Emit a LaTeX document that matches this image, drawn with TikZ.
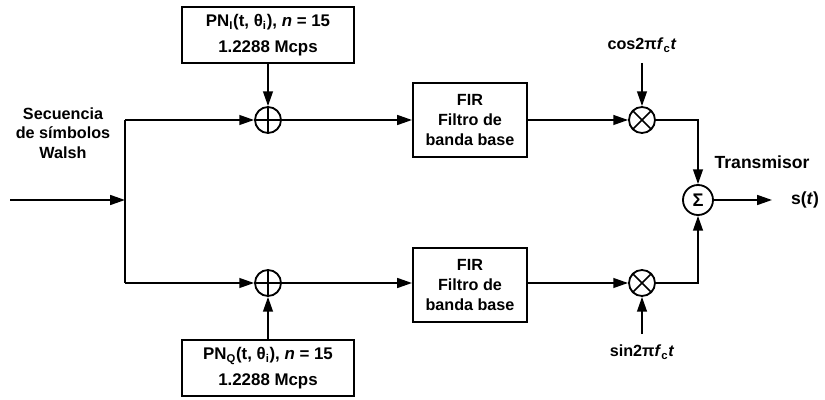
\documentclass[tikz,border=0pt]{standalone}
\usepackage{fontspec}
\setmainfont{Liberation Sans}
\usepackage{tikz}
\usetikzlibrary{arrows.meta,positioning,calc}

\begin{document}
\begin{tikzpicture}[x=0.025cm,y=-0.025cm,font=\bfseries\fontsize{11.5}{14}\selectfont,
  line width=1.2pt,
  flecha/.style={-{Triangle[length=10.5pt,width=7pt]}},
  bloque/.style={rectangle,draw,line width=1.4pt,align=center,inner sep=2pt},
  pnbloque/.style={bloque,minimum width=4.3cm,minimum height=1.4cm,
                   font=\bfseries\fontsize{12}{18}\selectfont},
  firbloque/.style={bloque,minimum width=2.85cm,minimum height=1.85cm},
  nodo/.style={circle,draw,line width=1.3pt,minimum size=0.65cm,inner sep=0pt},
  suma/.style={nodo,path picture={
      \draw[line width=1.2pt] (path picture bounding box.north) -- (path picture bounding box.south)
        (path picture bounding box.west) -- (path picture bounding box.east);}},
  mult/.style={nodo,path picture={
      \draw[line width=1.2pt] ($(path picture bounding box.center)+(45:0.33cm)$) -- ($(path picture bounding box.center)+(225:0.33cm)$)
        ($(path picture bounding box.center)+(135:0.33cm)$) -- ($(path picture bounding box.center)+(315:0.33cm)$);}},
  etiqueta/.style={align=center,inner sep=1pt}]

  \useasboundingbox (0,0) rectangle (825,400);

  % entrada y bifurcacion
  \coordinate (entrada) at (10,200);
  \coordinate (nudo)    at (125,200);
  \coordinate (bifI)    at (125,120);
  \coordinate (bifQ)    at (125,283);
  \node[etiqueta] (walsh) at (63,133) {Secuencia\\de símbolos\\Walsh};

  % rama I
  \node[suma]      (xorI) at (268,120) {};
  \node[pnbloque]  (pnI)  at (268,35)  {PN\textsubscript{I}(t, θ\textsubscript{i}), \textit{n} = 15\\1.2288 Mcps};
  \node[firbloque] (firI) at (470,120) {FIR\\Filtro de\\banda base};
  \node[mult]      (mulI) at (642,120) {};
  \node[etiqueta]  (cosI) at (642,45)  {cos2π\textit{f}\textsubscript{c}\textit{t}};

  % rama Q
  \node[suma]      (xorQ) at (268,283) {};
  \node[pnbloque]  (pnQ)  at (268,368) {PN\textsubscript{Q}(t, θ\textsubscript{i}), \textit{n} = 15\\1.2288 Mcps};
  \node[firbloque] (firQ) at (470,285) {FIR\\Filtro de\\banda base};
  \node[mult]      (mulQ) at (642,283) {};
  \node[etiqueta]  (sinQ) at (642,352) {sin2π\textit{f}\textsubscript{c}\textit{t}};

  % sumador final
  \node[nodo,minimum size=0.75cm,font=\bfseries\fontsize{13}{13}\selectfont] (sigma) at (698,200) {Σ};
  \node[etiqueta,font=\bfseries\fontsize{12.5}{14}\selectfont] (tx) at (762,162) {Transmisor};
  \coordinate (salida) at (772,200);
  \node[etiqueta,font=\bfseries\fontsize{12.5}{14}\selectfont] (st) at (805,200) {s(\textit{t})};

  % conexiones
  \draw[flecha] (entrada) -- (nudo);
  \draw (bifI) -- (bifQ);
  \draw[flecha] (bifI) -- (xorI);
  \draw[flecha] (bifQ) -- (xorQ);
  \draw[flecha] (pnI) -- (xorI);
  \draw[flecha] (pnQ) -- (xorQ);
  \draw[flecha] (xorI) -- (firI);
  \draw[flecha] (xorQ) -- (firQ.west |- xorQ);
  \draw[flecha] (firI) -- (mulI);
  \draw[flecha] (firQ.east |- mulQ) -- (mulQ);
  \draw[flecha] ([yshift=-6pt]cosI.south) -- (mulI);
  \draw[flecha] ([yshift=6pt]sinQ.north) -- (mulQ);
  \draw[flecha] (mulI) -| (sigma);
  \draw[flecha] (mulQ) -| (sigma);
  \draw[flecha] (sigma) -- (salida);
\end{tikzpicture}
\end{document}
